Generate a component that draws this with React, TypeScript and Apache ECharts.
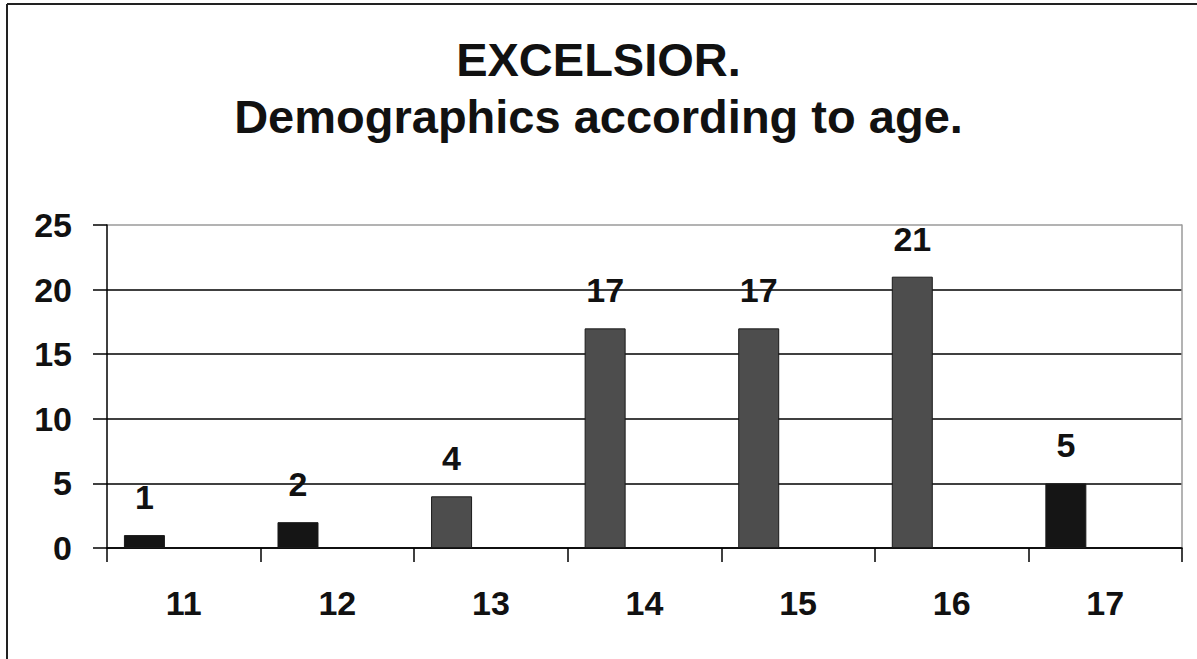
import React, { useEffect, useRef } from "react";
import * as echarts from "echarts";

const titleLines = ["EXCELSIOR.", "Demographics according to age."];
const ages = ["11", "12", "13", "14", "15", "16", "17"];
const counts = [1, 2, 4, 17, 17, 21, 5];
const barColors = ["#151515", "#151515", "#4d4d4d", "#4d4d4d", "#4d4d4d", "#4d4d4d", "#151515"];
const yMin = 0;
const yMax = 25;
const yStep = 5;

const FONT = '"Liberation Sans", Arial, sans-serif';

export default function App() {
  const ref = useRef<HTMLDivElement>(null);
  useEffect(() => {
    document.body.style.margin = "0";
    const chart = echarts.init(ref.current!, undefined, { renderer: "svg" });
    chart.setOption({
      animation: false,
      backgroundColor: "#ffffff",
      title: {
        text: titleLines.join("\n"),
        left: "center",
        top: 26,
        textStyle: {
          fontFamily: FONT,
          fontWeight: "bold",
          fontSize: 47,
          lineHeight: 57,
          color: "#111",
        },
      },
      graphic: [
        { type: "line", shape: { x1: 7, y1: 4, x2: 1197, y2: 4 }, style: { stroke: "#222", lineWidth: 2 } },
        { type: "line", shape: { x1: 7, y1: 4, x2: 7, y2: 659 }, style: { stroke: "#222", lineWidth: 2 } },
      ],
      grid: { left: 107, right: 15, top: 225, bottom: 111, containLabel: false },
      xAxis: {
        type: "category",
        data: ages,
        boundaryGap: true,
        axisLine: { lineStyle: { color: "#000", width: 1.5 } },
        axisTick: { show: true, length: 14, lineStyle: { color: "#000", width: 1.5 } },
        axisLabel: {
          margin: 38,
          fontFamily: FONT,
          fontWeight: "bold",
          fontSize: 34,
          color: "#111",
        },
      },
      yAxis: [
        {
          type: "value",
          min: yMin,
          max: yMax,
          interval: yStep,
          axisLine: { show: true, lineStyle: { color: "#000", width: 1.5 } },
          axisTick: { show: true, length: 14, lineStyle: { color: "#000", width: 1.5 } },
          axisLabel: {
            margin: 35,
            fontFamily: FONT,
            fontWeight: "bold",
            fontSize: 34,
            color: "#111",
          },
          splitLine: {
            show: true,
            lineStyle: { color: ["#000", "#000", "#000", "#000", "#000", "#9a9a9a"], width: 1.5 },
          },
        },
        {
          type: "value",
          position: "right",
          min: yMin,
          max: yMax,
          interval: yStep,
          axisLine: { show: true, lineStyle: { color: "#9a9a9a", width: 1.5 } },
          axisTick: { show: false },
          axisLabel: { show: false },
          splitLine: { show: false },
        },
      ],
      series: [
        {
          type: "bar",
          barWidth: 41,
          barGap: "92%",
          data: counts.map((v, i) => ({
            value: v,
            itemStyle: { color: barColors[i], borderColor: "#1a1a1a", borderWidth: 1 },
          })),
          label: {
            show: true,
            position: "top",
            distance: 21,
            fontFamily: FONT,
            fontWeight: "bold",
            fontSize: 34,
            color: "#111",
          },
        },
        {
          type: "bar",
          barWidth: 41,
          data: counts.map(() => null),
          label: { show: false },
        },
      ],
    });
    return () => chart.dispose();
  }, []);
  return <div ref={ref} style={{ width: 1197, height: 659 }} />;
}
